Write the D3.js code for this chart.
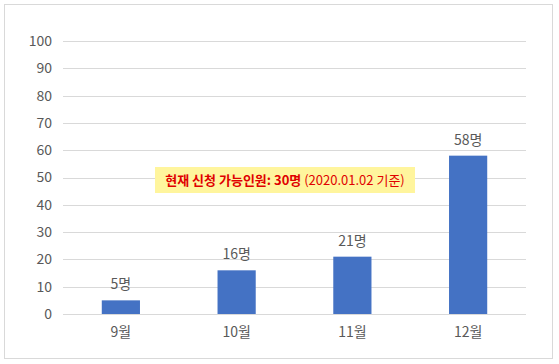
<!DOCTYPE html>
<html>
<head>
<meta charset="utf-8">
<script src="https://cdn.jsdelivr.net/npm/d3@7"></script>
<style>
  body{margin:0;background:#fff;}
  svg{display:block;font-family:"Noto Sans CJK KR","Noto Sans",sans-serif;}
</style>
</head>
<body>
<div id="chart"></div>
<script>
// 월별 신청 인원
var months=["9월","10월","11월","12월"];
var counts=[5,16,21,58];
var yTicks=[0,10,20,30,40,50,60,70,80,90,100];
var noteBold="현재 신청 가능인원: 30명";
var noteRest=" (2020.01.02 기준)";

var W=559,H=364;
var svg=d3.select("#chart").append("svg").attr("width",W).attr("height",H);

// 바깥 테두리
svg.append("rect").attr("x",4.5).attr("y",4.5).attr("width",548).attr("height",354)
    .attr("fill","#fff").attr("stroke","#d9d9d9");

var x=d3.scaleBand().domain(months).range([63,526]).paddingInner(0.67).paddingOuter(0.335);
var y=d3.scaleLinear().domain([0,100]).range([314,41]);

// 격자선
svg.append("g").selectAll("line").data(yTicks).enter().append("line")
    .attr("x1",63).attr("x2",526)
    .attr("y1",function(d){return Math.round(y(d))+0.5;})
    .attr("y2",function(d){return Math.round(y(d))+0.5;})
    .attr("stroke","#d9d9d9").attr("stroke-width",1);

// y축 라벨
svg.append("g").selectAll("text").data(yTicks).enter().append("text")
    .attr("x",52).attr("y",function(d){return y(d);}).attr("dy","0.35em")
    .attr("text-anchor","end").attr("font-size",14).attr("fill","#595959")
    .text(function(d){return d;});

// 막대
svg.append("g").selectAll("rect").data(counts).enter().append("rect")
    .attr("x",function(d,i){return x(months[i]);})
    .attr("width",x.bandwidth())
    .attr("y",function(d){return y(d);})
    .attr("height",function(d){return y(0)-y(d);})
    .attr("fill","#4472c4");

// 데이터 라벨
svg.append("g").selectAll("text").data(counts).enter().append("text")
    .attr("x",function(d,i){return x(months[i])+x.bandwidth()/2;})
    .attr("y",function(d){return y(d)-11;})
    .attr("text-anchor","middle").attr("font-size",14).attr("fill","#595959")
    .text(function(d){return d+"명";});

// x축 라벨
svg.append("g").selectAll("text").data(months).enter().append("text")
    .attr("x",function(d){return x(d)+x.bandwidth()/2;})
    .attr("y",337)
    .attr("text-anchor","middle").attr("font-size",14).attr("fill","#595959")
    .text(function(d){return d;});

// 안내 문구
svg.append("rect").attr("x",155).attr("y",167).attr("width",260).attr("height",26)
    .attr("fill","#fff59d");
var note=svg.append("text").attr("x",285).attr("y",185).attr("text-anchor","middle")
    .attr("font-size",13).attr("fill","#e00000");
note.append("tspan").attr("font-weight","bold").text(noteBold);
note.append("tspan").text(noteRest);
</script>
</body>
</html>
